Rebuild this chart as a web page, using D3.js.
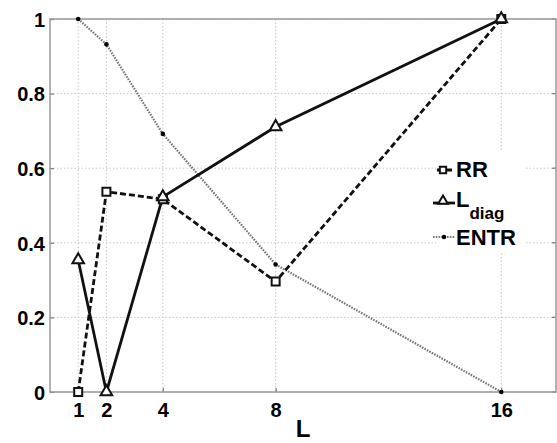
<!DOCTYPE html>
<html>
<head>
<meta charset="utf-8">
<script src="https://cdn.jsdelivr.net/npm/d3@7"></script>
<style>
  html, body { margin: 0; padding: 0; background: #fff; }
  svg { display: block; }
  text { font-family: "Liberation Sans", Arial, sans-serif; font-weight: bold; fill: #000; }
</style>
</head>
<body>
<svg id="chart" width="557" height="443"></svg>
<script>
// Window length L on the x axis
const lValues = [1, 2, 4, 8, 16];
// Normalised measures per window length
const rrValues    = [0, 0.537, 0.517, 0.296, 1];
const ldiagValues = [0.354, 0, 0.523, 0.711, 1];
const entrValues  = [1, 0.932, 0.692, 0.342, 0];
const yTicks = [0, 0.2, 0.4, 0.6, 0.8, 1];
const yTickLabels = ["0", "0.2", "0.4", "0.6", "0.8", "1"];

const svg = d3.select("#chart");
const margin = { left: 50, top: 19, right: 1, bottom: 51 };
const W = 557, H = 443;
const iw = W - margin.left - margin.right;
const ih = H - margin.top - margin.bottom;

const x = d3.scaleLinear().domain([0, 17.94]).range([0, iw]);
const y = d3.scaleLinear().domain([0, 1]).range([ih, 0]);

const g = svg.append("g").attr("transform", `translate(${margin.left},${margin.top})`);

// Dotted grid
g.append("g").selectAll("line.gx").data(lValues).join("line")
  .attr("x1", d => x(d)).attr("x2", d => x(d))
  .attr("y1", 0).attr("y2", ih)
  .attr("stroke", "#c8c8c8").attr("stroke-width", 1).attr("stroke-dasharray", "1.5,2");
g.append("g").selectAll("line.gy").data(yTicks).join("line")
  .attr("x1", 0).attr("x2", iw)
  .attr("y1", d => y(d)).attr("y2", d => y(d))
  .attr("stroke", "#c8c8c8").attr("stroke-width", 1).attr("stroke-dasharray", "1.5,2");

// Axes
const xAxis = d3.axisBottom(x).tickValues(lValues).tickSize(-4).tickPadding(7).tickFormat(d3.format("d"));
const yAxis = d3.axisLeft(y).tickValues(yTicks).tickSize(-4).tickPadding(5).tickFormat((d, i) => yTickLabels[i]);

const gx = g.append("g").attr("transform", `translate(0,${ih})`).call(xAxis);
const gy = g.append("g").call(yAxis);
[gx, gy].forEach(a => {
  a.select(".domain").remove();
  a.selectAll(".tick line").attr("stroke", "#777").attr("stroke-width", 1.2);
  a.selectAll(".tick text").style("font-size", "20px").style("font-family", "'Liberation Sans', Arial, sans-serif").style("font-weight", "bold").attr("fill", "#000");
});
gx.selectAll(".tick text").attr("dy", "0.9em");
gy.selectAll(".tick text").attr("dy", "0.36em");

// Right-side ticks
g.append("g").selectAll("line").data(yTicks).join("line")
  .attr("x1", iw - 4).attr("x2", iw).attr("y1", d => y(d)).attr("y2", d => y(d))
  .attr("stroke", "#777").attr("stroke-width", 1.2);

// Frame
g.append("rect").attr("x", 0).attr("y", 0).attr("width", iw).attr("height", ih)
  .attr("fill", "none").attr("stroke", "#999").attr("stroke-width", 1.5);

// x-axis title
svg.append("text").attr("x", margin.left + iw / 2).attr("y", 437)
  .attr("text-anchor", "middle").style("font-size", "24px").text("L");

const line = d3.line().x(d => x(d[0])).y(d => y(d[1]));
const rrPts = lValues.map((l, i) => [l, rrValues[i]]);
const ldPts = lValues.map((l, i) => [l, ldiagValues[i]]);
const enPts = lValues.map((l, i) => [l, entrValues[i]]);

// ENTR: dotted grey line with small dots
g.append("path").datum(enPts).attr("d", line)
  .attr("fill", "none").attr("stroke", "#777").attr("stroke-width", 2.2).attr("stroke-dasharray", "1.6,1.2");
g.append("g").selectAll("circle").data(enPts).join("circle")
  .attr("cx", d => x(d[0])).attr("cy", d => y(d[1])).attr("r", 2.3).attr("fill", "#000");

// RR: dashed black line with squares
g.append("path").datum(rrPts).attr("d", line)
  .attr("fill", "none").attr("stroke", "#111").attr("stroke-width", 2.8).attr("stroke-dasharray", "6,3");

// L_diag: solid black line with triangles
g.append("path").datum(ldPts).attr("d", line)
  .attr("fill", "none").attr("stroke", "#111").attr("stroke-width", 2.8);

const sq = d3.symbol().type(d3.symbolSquare).size(64);
const tri = d3.symbol().type(d3.symbolTriangle).size(58);
g.append("g").selectAll("path").data(rrPts).join("path")
  .attr("transform", d => `translate(${x(d[0])},${y(d[1])})`)
  .attr("d", sq).attr("fill", "#fff").attr("stroke", "#111").attr("stroke-width", 2);
g.append("g").selectAll("path").data(ldPts).join("path")
  .attr("transform", d => `translate(${x(d[0])},${y(d[1])})`)
  .attr("d", tri).attr("fill", "#fff").attr("stroke", "#111").attr("stroke-width", 2);

// Legend
const sqL = d3.symbol().type(d3.symbolSquare).size(40);
const triL = d3.symbol().type(d3.symbolTriangle).size(40);
const lg = svg.append("g");
lg.append("rect").attr("x", 436).attr("y", 150).attr("width", 90).attr("height", 102).attr("fill", "#fff");

lg.append("line").attr("x1", 437).attr("x2", 455).attr("y1", 170).attr("y2", 170)
  .attr("stroke", "#111").attr("stroke-width", 2.8).attr("stroke-dasharray", "6,3");
lg.append("path").attr("transform", "translate(443,170)").attr("d", sqL)
  .attr("fill", "#fff").attr("stroke", "#111").attr("stroke-width", 2);
lg.append("text").attr("x", 456).attr("y", 177).style("font-size", "22px").text("RR");

lg.append("line").attr("x1", 433).attr("x2", 455).attr("y1", 203).attr("y2", 203)
  .attr("stroke", "#111").attr("stroke-width", 2.8);
lg.append("path").attr("transform", "translate(443,201)").attr("d", triL)
  .attr("fill", "#fff").attr("stroke", "#111").attr("stroke-width", 2);
const ld = lg.append("text").attr("x", 456).attr("y", 207).style("font-size", "22px");
ld.append("tspan").text("L");
ld.append("tspan").attr("dy", 12).style("font-size", "17px").text("diag");

lg.append("line").attr("x1", 433).attr("x2", 455).attr("y1", 237).attr("y2", 237)
  .attr("stroke", "#777").attr("stroke-width", 2.2).attr("stroke-dasharray", "1.6,1.2");
lg.append("circle").attr("cx", 444).attr("cy", 237).attr("r", 2.3).attr("fill", "#000");
lg.append("text").attr("x", 456).attr("y", 245).style("font-size", "22px").text("ENTR");
</script>
</body>
</html>
